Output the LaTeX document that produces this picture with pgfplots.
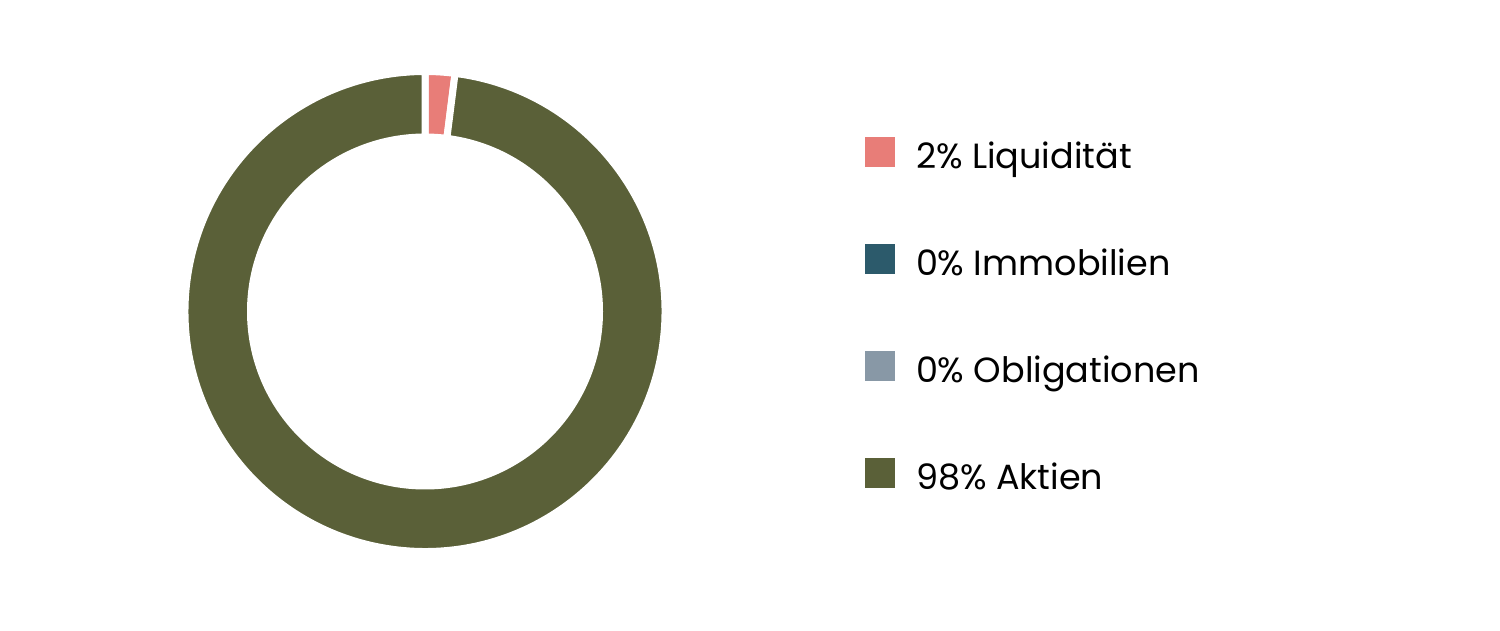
\documentclass[border=0pt]{standalone}
\usepackage{pgfplots}
\usepackage{pgfplotstable}
\usepackage{fontspec}
\setmainfont{Poppins}
\pgfplotsset{compat=1.18}

\definecolor{liq}{HTML}{E87D78}
\definecolor{immo}{HTML}{2C5A6B}
\definecolor{obli}{HTML}{8898A6}
\definecolor{akt}{HTML}{5A6038}

% shares in percent, clockwise from the top
\pgfplotstableread{
share
2
0
0
98
}\shares

\def\Ro{240}
\def\Ri{174.5}

% one slice of the ring: start angle, end angle, colour
\newcommand\ringslice[3]{%
  \filldraw[fill=#3, draw=white, line width=7pt, line join=miter]
    (axis cs:{\Ro*cos(#1)},{\Ro*sin(#1)})
    arc[start angle=#1, end angle=#2, radius=\Ro pt]
    -- (axis cs:{\Ri*cos(#2)},{\Ri*sin(#2)})
    arc[start angle=#2, end angle=#1, radius=\Ri pt] -- cycle;}

\begin{document}
\begin{tikzpicture}
  \useasboundingbox (0,0) rectangle (1500pt,630pt);
  \pgfplotstablegetelem{0}{share}\of\shares \let\sA\pgfplotsretval
  \pgfplotstablegetelem{1}{share}\of\shares \let\sB\pgfplotsretval
  \pgfplotstablegetelem{2}{share}\of\shares \let\sC\pgfplotsretval
  \pgfplotstablegetelem{3}{share}\of\shares \let\sD\pgfplotsretval
  \pgfmathsetmacro\aA{90}
  \pgfmathsetmacro\aB{\aA-3.6*\sA}
  \pgfmathsetmacro\aC{\aB-3.6*\sB}
  \pgfmathsetmacro\aD{\aC-3.6*\sC}
  \pgfmathsetmacro\aE{\aD-3.6*\sD}
  \begin{axis}[
    at={(425pt,318.5pt)}, anchor=origin,
    x=1pt, y=1pt, scale only axis,
    xmin=-250, xmax=250, ymin=-250, ymax=250,
    hide axis, clip=false,
    legend image code/.code={\fill[#1, draw=none] (0pt,-7pt) rectangle (30pt,23pt);},
    legend cell align=left,
    legend style={
      at={(1.38,0.849)}, anchor=north west,
      draw=none, fill=none, inner sep=0pt, outer sep=0pt,
      font=\fontsize{35pt}{40pt}\selectfont,
      column sep=21pt, row sep=67pt,
      nodes={inner sep=0pt, text height=25pt, text depth=9pt},
    },
    ]
    \ringslice{\aA}{\aB}{liq}
    \ringslice{\aD}{\aE}{akt}
    \addlegendimage{fill=liq}
    \addlegendentry{2\% Liquidität}
    \addlegendimage{fill=immo}
    \addlegendentry{0\% Immobilien}
    \addlegendimage{fill=obli}
    \addlegendentry{0\% Obligationen}
    \addlegendimage{fill=akt}
    \addlegendentry{98\% Aktien}
  \end{axis}
\end{tikzpicture}
\end{document}
